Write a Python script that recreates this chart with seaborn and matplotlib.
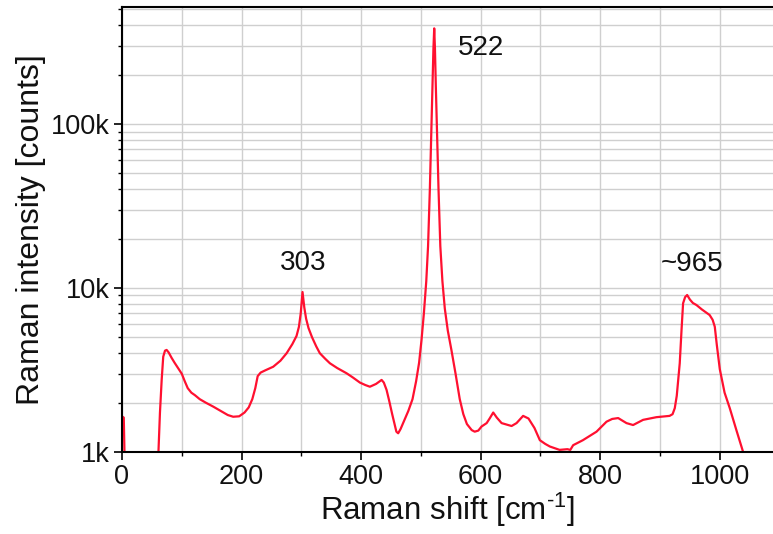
import numpy as np
import pandas as pd
import matplotlib
matplotlib.use("Agg")
import matplotlib.pyplot as plt
import seaborn as sns
from matplotlib.ticker import FixedLocator, FixedFormatter, MultipleLocator, LogLocator, NullFormatter

# ---- data ----
shift = [0, 3, 5, 58, 61, 63.5, 66.4, 69, 72, 74.7, 78, 83, 88, 94, 100, 105, 110, 116, 122,
         130, 140, 152.7, 165, 177, 186, 196, 205, 212, 218, 223, 227, 232, 240, 253, 265,
         275.4, 285, 292, 296, 299, 302, 305, 308, 312, 318, 325, 331, 340, 347.8, 360, 375.7,
         386, 398, 407, 414.7, 425, 434.3, 438, 442.6, 447, 452, 456, 459, 462, 466, 472, 479,
         486, 492, 497, 501, 505, 509, 512, 515, 517.5, 519.5, 521, 522.3, 523.5, 525, 527,
         529.5, 532.5, 536, 540, 545, 551, 558, 565, 571, 577, 585, 590, 596, 601.5, 610, 615,
         621, 627, 635, 651.7, 660, 671, 680, 690, 699, 708, 715.7, 732, 745, 750, 754.7, 771,
         793.8, 810.5, 820, 830, 843.9, 855, 871.7, 894, 916, 921, 924.7, 928, 931, 933, 936,
         938.6, 942, 945.4, 950, 955, 961, 970, 983, 988, 991.6, 995, 1000, 1008, 1016.7, 1028,
         1039, 1045]
intensity = [1650, 1620, 700, 700, 1000, 1730, 2750, 3810, 4150, 4190, 4050, 3750, 3500, 3240,
             3000, 2700, 2450, 2300, 2220, 2100, 2000, 1890, 1780, 1680, 1640, 1650, 1740, 1870,
             2100, 2450, 2900, 3050, 3150, 3310, 3600, 4000, 4550, 5100, 5800, 7000, 9450, 7600,
             6500, 5700, 5000, 4400, 4000, 3700, 3475, 3250, 3020, 2850, 2650, 2560, 2500, 2600,
             2750, 2650, 2390, 2050, 1700, 1480, 1330, 1300, 1380, 1550, 1780, 2100, 2700, 3500,
             4800, 7000, 11000, 18000, 40000, 90000, 170000, 290000, 383000, 290000, 170000,
             90000, 40000, 18000, 11000, 7500, 5500, 4200, 3000, 2100, 1700, 1480, 1360, 1330,
             1350, 1430, 1500, 1600, 1740, 1620, 1500, 1440, 1500, 1660, 1600, 1400, 1180, 1120,
             1080, 1030, 1040, 1030, 1100, 1180, 1330, 1530, 1590, 1610, 1500, 1460, 1570, 1630,
             1660, 1700, 1850, 2200, 2900, 3475, 5550, 8070, 8800, 9060, 8500, 8100, 7870, 7400,
             6840, 6400, 5810, 4500, 3200, 2300, 1850, 1350, 1000, 800]

peak_labels = ["303", "522", "~965"]
peak_label_x = [303, 601, 953]
peak_label_y = [14300, 290000, 14000]

x_ticks = [0, 200, 400, 600, 800, 1000]
y_ticks = [1000, 10000, 100000]
y_tick_labels = ["1k", "10k", "100k"]

df = pd.DataFrame({"shift": shift, "intensity": intensity})

# ---- style ----
sns.set_style("white")
plt.rcParams["font.family"] = ["Liberation Sans", "DejaVu Sans"]
plt.rcParams["mathtext.fontset"] = "custom"
plt.rcParams["mathtext.rm"] = "Liberation Sans"
plt.rcParams["mathtext.default"] = "regular"

fig = plt.figure(figsize=(7.73, 5.34), dpi=100)
ax = fig.add_axes([0.1578, 0.1536, 1 - 0.1578, 0.9869 - 0.1536])

sns.lineplot(data=df, x="shift", y="intensity", ax=ax, color="#ff1030",
             linewidth=1.6, estimator=None, sort=False)

ax.set_yscale("log")
ax.set_xlim(0, 1089)
ax.set_ylim(1000, 517000)

ax.xaxis.set_major_locator(FixedLocator(x_ticks))
ax.xaxis.set_minor_locator(MultipleLocator(100))
ax.yaxis.set_major_locator(FixedLocator(y_ticks))
ax.yaxis.set_major_formatter(FixedFormatter(y_tick_labels))
ax.yaxis.set_minor_locator(LogLocator(base=10, subs=np.arange(2, 10)))
ax.yaxis.set_minor_formatter(NullFormatter())

ax.grid(True, which="both", color="#cfcfcf", linewidth=1.0)
ax.set_axisbelow(True)

for side in ["left", "bottom", "top"]:
    ax.spines[side].set_color("black")
    ax.spines[side].set_linewidth(1.5)
ax.spines["right"].set_visible(False)

ax.tick_params(axis="both", which="major", direction="out", length=6, width=1.2,
               color="black", labelsize=19.5, pad=2.5, labelcolor="#111111")
ax.tick_params(axis="both", which="minor", direction="out", length=3, width=1.0, color="black")
ax.tick_params(axis="x", which="both", top=False, bottom=True)
ax.tick_params(axis="y", which="both", right=False, left=True)

ax.set_xlabel("Raman shift [cm\u207b\u00b9]", fontsize=22.5, labelpad=1, color="#111111")
ax.set_xlabel("Raman shift [cm$^{\\text{-1}}$]", fontsize=22.5, labelpad=1, color="#111111")
ax.set_ylabel("Raman intensity [counts]", fontsize=23, labelpad=4, color="#111111")

for lab, lx, ly in zip(peak_labels, peak_label_x, peak_label_y):
    ax.text(lx, ly, lab, fontsize=20, ha="center", va="center", color="#111111")

fig.savefig("out.png", dpi=100)
